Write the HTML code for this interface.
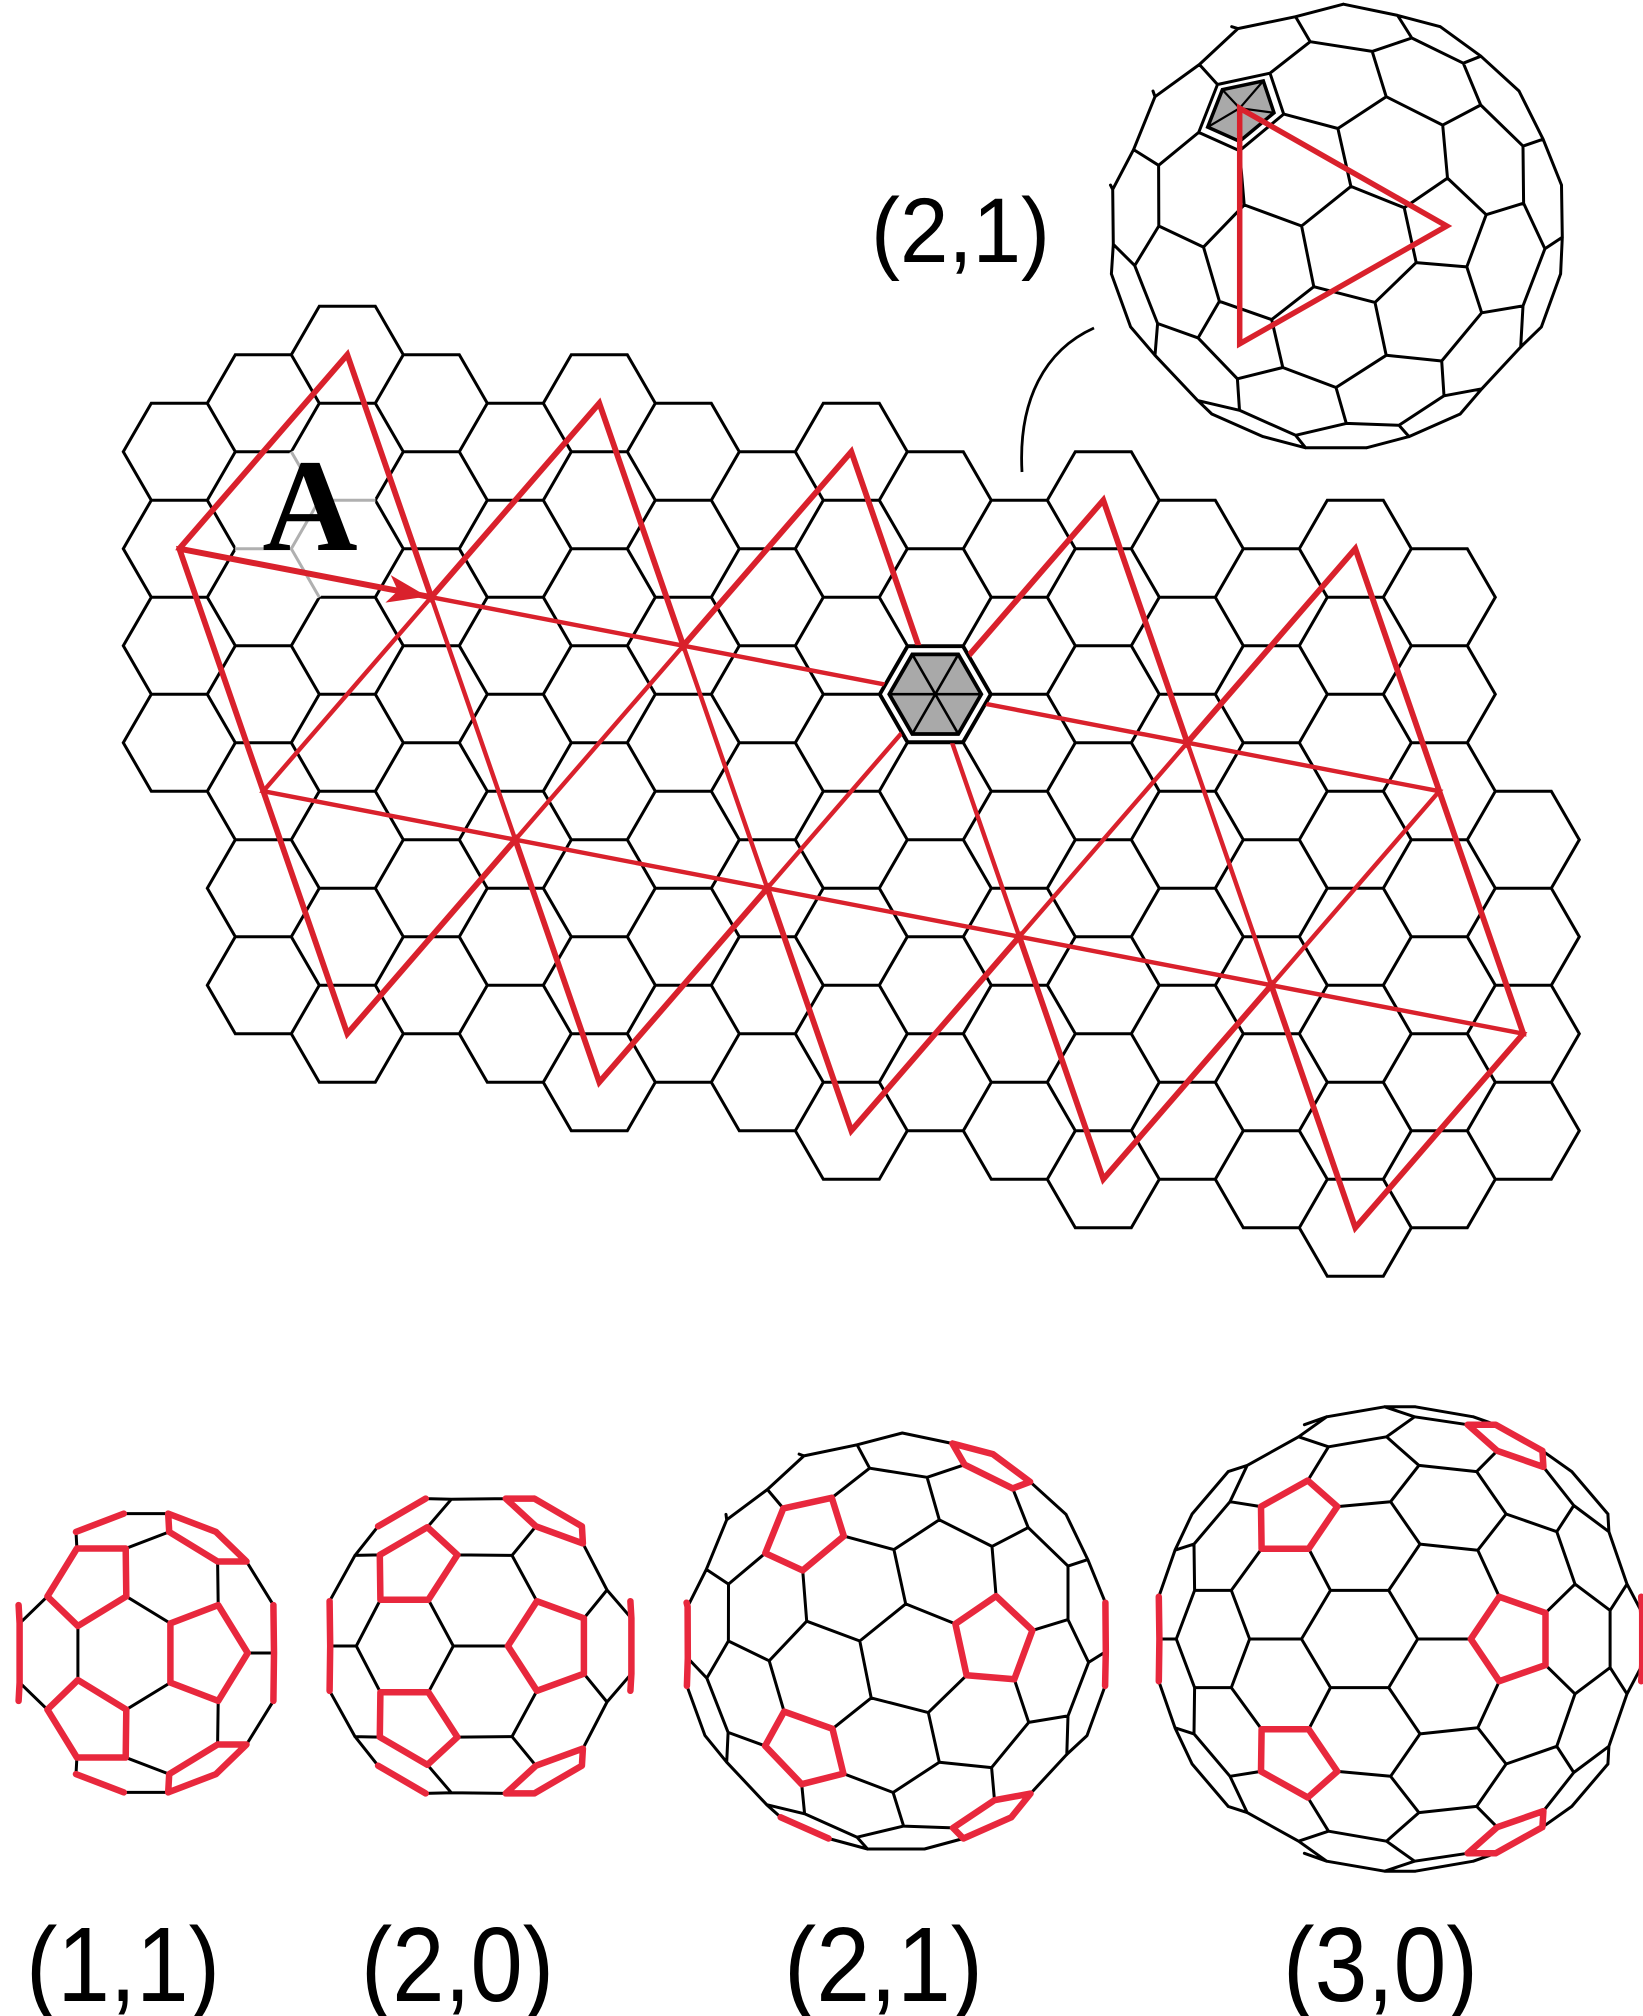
<!DOCTYPE html>
<html><head><meta charset="utf-8">
<style>
html,body{margin:0;padding:0;background:#fff;}
svg{display:block;}
text{font-family:"Liberation Sans",sans-serif;}
text.serif{font-family:"Liberation Serif",serif;font-weight:bold;}
</style></head>
<body>
<svg id="fig" width="1643" height="2016" viewBox="0 0 1643 2016" xmlns="http://www.w3.org/2000/svg">
  <rect x="0" y="0" width="1643" height="2016" fill="#fff"/>
  <g id="lattice"></g>
  <g id="gray-edges"></g>
  <g id="net"></g>
  <g id="center-hex"></g>
  <text class="serif" x="310" y="550" text-anchor="middle" font-size="132">A</text>
  <path d="M1022,472 C1018,400 1045,350 1094,328" fill="none" stroke="#000" stroke-width="2.8"/>
  <g id="balls"></g>
  <text x="871" y="262" font-size="92" textLength="179" lengthAdjust="spacingAndGlyphs">(2,1)</text>
  <text x="26" y="2001" font-size="106" textLength="194" lengthAdjust="spacingAndGlyphs">(1,1)</text>
  <text x="361" y="2001" font-size="106" textLength="193" lengthAdjust="spacingAndGlyphs">(2,0)</text>
  <text x="784" y="2001" font-size="106" textLength="199" lengthAdjust="spacingAndGlyphs">(2,1)</text>
  <text x="1283" y="2001" font-size="106" textLength="195" lengthAdjust="spacingAndGlyphs">(3,0)</text>
</svg>
<script>
// ---- data ----
const vectorA = [3, 2];        // lattice steps (q,r) of vector A
const vectorB = [2, -1];       // companion vector (A rotated 60deg)
const netOrigin = [0, 1];      // starting lattice cell
const capCount = [5];          // number of triangle columns in net
const ballIndices = [[1,1],[2,0],[2,1],[3,0]];
const insetIndex = [2, 1];

const NS = 'http://www.w3.org/2000/svg';
const S = 56, DX = 84, DY = 97, X0 = 179.3, Y0 = 451.7;
function cen(q, r){ return [X0 + DX*q, Y0 - DY/2*q + DY*r]; }
function pt(i, j){
  const q = netOrigin[0] + i*vectorA[0] + j*vectorB[0];
  const r = netOrigin[1] + i*vectorA[1] + j*vectorB[1];
  return cen(q, r);
}
const N = capCount[0];
const U = k => pt(k, 0), L = k => pt(k+1, -1), T = k => pt(k, 1), Bo = k => pt(k+2, -2);
const tris = [];
for (let k = 0; k < N; k++){
  tris.push([U(k), U(k+1), T(k)]);
  tris.push([U(k), U(k+1), L(k)]);
  tris.push([U(k+1), L(k), L(k+1)]);
  tris.push([L(k), L(k+1), Bo(k)]);
}
function inTri(p, t){
  function s(a,b,c){ return (a[0]-c[0])*(b[1]-c[1]) - (b[0]-c[0])*(a[1]-c[1]); }
  const d1 = s(p,t[0],t[1]), d2 = s(p,t[1],t[2]), d3 = s(p,t[2],t[0]);
  const neg = d1 < -1e-6 || d2 < -1e-6 || d3 < -1e-6, pos = d1 > 1e-6 || d2 > 1e-6 || d3 > 1e-6;
  return !(neg && pos);
}
function segDist(p, a, b){
  const vx = b[0]-a[0], vy = b[1]-a[1];
  let t = ((p[0]-a[0])*vx + (p[1]-a[1])*vy)/(vx*vx+vy*vy);
  t = Math.max(0, Math.min(1, t));
  return Math.hypot(p[0]-a[0]-t*vx, p[1]-a[1]-t*vy);
}
function hexPath(c, s){
  let d = '';
  for (let i = 0; i < 6; i++){
    const a = Math.PI/3*i;
    d += (i ? 'L' : 'M') + (c[0]+s*Math.cos(a)).toFixed(1) + ',' + (c[1]+s*Math.sin(a)).toFixed(1);
  }
  return d + 'Z';
}
// ---- lattice ----
const latG = document.getElementById('lattice');
let latD = '';
for (let q = -2; q < 20; q++){
  for (let r = -5; r < 22; r++){
    const c = cen(q, r);
    let ok = tris.some(t => inTri(c, t));
    if (!ok){
      let md = 1e9;
      tris.forEach(t => { for (let i = 0; i < 3; i++) md = Math.min(md, segDist(c, t[i], t[(i+1)%3])); });
      ok = md <= 72;
    }
    if (ok) latD += hexPath(c, S);
  }
}
const latPath = document.createElementNS(NS, 'path');


latPath.setAttribute('d', latD);
latPath.setAttribute('fill', 'none');
latPath.setAttribute('stroke', '#000');
latPath.setAttribute('stroke-width', '3');
latPath.setAttribute('stroke-linejoin', 'miter');
latG.appendChild(latPath);
// gray edges around A
const grayG = document.getElementById('gray-edges');
const gsegs = [[[291.3,451.7],[319.3,500.2]],[[319.3,500.2],[375.3,500.2]],[[319.3,500.2],[291.3,548.7]],[[235.3,548.7],[291.3,548.7]],[[291.3,548.7],[319.3,597.2]]];
let gd = '';
gsegs.forEach(s => { gd += 'M' + s[0][0] + ',' + s[0][1] + 'L' + s[1][0] + ',' + s[1][1]; });
const gw = document.createElementNS(NS, 'path');


gw.setAttribute('d', gd);
gw.setAttribute('stroke', '#fff');
gw.setAttribute('stroke-width', '4.5');
grayG.appendChild(gw);
const gp = document.createElementNS(NS, 'path');


gp.setAttribute('d', gd);
gp.setAttribute('stroke', '#b0b0b0');
gp.setAttribute('stroke-width', '3');
grayG.appendChild(gp);
// ---- red net ----
const netG = document.getElementById('net');
const RED = '#d9212c';
let nd = '';
tris.forEach(t => { nd += 'M' + t[0].join(',') + 'L' + t[1].join(',') + 'L' + t[2].join(',') + 'Z'; });
const inner = document.createElementNS(NS, 'path');


inner.setAttribute('d', nd);
inner.setAttribute('fill', 'none');
inner.setAttribute('stroke', RED);
inner.setAttribute('stroke-width', '4.4');
netG.appendChild(inner);
const outline = [];
for (let k = 0; k < N; k++){ outline.push(U(k)); outline.push(T(k)); }
outline.push(U(N)); outline.push(L(N));
for (let k = N-1; k >= 0; k--){ outline.push(Bo(k)); outline.push(L(k)); }
const outP = document.createElementNS(NS, 'path');


outP.setAttribute('d', 'M' + outline.map(p => p[0].toFixed(1) + ',' + p[1].toFixed(1)).join('L') + 'Z');
outP.setAttribute('fill', 'none');
outP.setAttribute('stroke', RED);
outP.setAttribute('stroke-width', '5.8');
outP.setAttribute('stroke-linejoin', 'miter');
netG.appendChild(outP);
// arrow A
const a0 = U(0), a1 = U(1);
const arr = document.createElementNS(NS, 'path');


arr.setAttribute('d', 'M' + a0.join(',') + 'L' + a1.join(','));
arr.setAttribute('stroke', RED);
arr.setAttribute('stroke-width', '6');
netG.appendChild(arr);
{
  const ux = a1[0]-a0[0], uy = a1[1]-a0[1], ln = Math.hypot(ux, uy), ex = ux/ln, ey = uy/ln;
  const tip = [a1[0]-4*ex, a1[1]-4*ey], back = [tip[0]-40*ex, tip[1]-40*ey];
  const hd = 'M' + tip.join(',') + 'L' + (back[0]-14*ey) + ',' + (back[1]+14*ex) + 'L' + (back[0]+10*ex) + ',' + (back[1]+10*ey) + 'L' + (back[0]+14*ey) + ',' + (back[1]-14*ex) + 'Z';
  const head = document.createElementNS(NS, 'path');
  
  
  head.setAttribute('d', hd);
  head.setAttribute('fill', RED);
  netG.appendChild(head);
}
// center hexagon (pentamer)
{
  const c = U(3);
  const hg = document.getElementById('center-hex');
  const wh = document.createElementNS(NS, 'path');
  
  
  wh.setAttribute('d', hexPath(c, S-1));
  wh.setAttribute('fill', '#fff');
  wh.setAttribute('stroke', '#000');
  wh.setAttribute('stroke-width', '3');
  hg.appendChild(wh);
  const gh = document.createElementNS(NS, 'path');
  
  
  gh.setAttribute('d', hexPath(c, 46));
  gh.setAttribute('fill', '#a9a9a9');
  gh.setAttribute('stroke', '#000');
  gh.setAttribute('stroke-width', '3.8');
  hg.appendChild(gh);
  let sd = '';
  for (let i = 0; i < 3; i++){
    const a = Math.PI/3*i;
    sd += 'M' + (c[0]+46*Math.cos(a)) + ',' + (c[1]+46*Math.sin(a)) + 'L' + (c[0]-46*Math.cos(a)) + ',' + (c[1]-46*Math.sin(a));
  }
  const sp = document.createElementNS(NS, 'path');
  
  
  sp.setAttribute('d', sd);
  sp.setAttribute('stroke', '#000');
  sp.setAttribute('stroke-width', '2.6');
  hg.appendChild(sp);
}
// ---- Goldberg polyhedra ----
function norm(v){ const l = Math.hypot(v[0],v[1],v[2]); return [v[0]/l, v[1]/l, v[2]/l]; }
function sub(a,b){ return [a[0]-b[0],a[1]-b[1],a[2]-b[2]]; }
function dot(a,b){ return a[0]*b[0]+a[1]*b[1]+a[2]*b[2]; }
function cross(a,b){ return [a[1]*b[2]-a[2]*b[1], a[2]*b[0]-a[0]*b[2], a[0]*b[1]-a[1]*b[0]]; }
const PHI = (1+Math.sqrt(5))/2;
const icoRaw = [];
[-1,1].forEach(s1 => [-1,1].forEach(s2 => {
  icoRaw.push([0, s1, s2*PHI]); icoRaw.push([s1, s2*PHI, 0]); icoRaw.push([s2*PHI, 0, s1]);
}));
const ico = icoRaw.map(norm);
const icoFaces = [];
for (let i = 0; i < 12; i++) for (let j = i+1; j < 12; j++) for (let l = j+1; l < 12; l++){
  const e = 2/Math.sqrt(1+PHI*PHI);
  const dij = Math.hypot(...sub(ico[i],ico[j])), dil = Math.hypot(...sub(ico[i],ico[l])), djl = Math.hypot(...sub(ico[j],ico[l]));
  if (Math.abs(dij-e) < 1e-6 && Math.abs(dil-e) < 1e-6 && Math.abs(djl-e) < 1e-6){
    const n = cross(sub(ico[j],ico[i]), sub(ico[l],ico[i]));
    if (dot(n, ico[i]) > 0) icoFaces.push([i,j,l]); else icoFaces.push([i,l,j]);
  }
}
function goldberg(h, k){
  const pts = [];
  const Uc = [h + k/2, k*Math.sqrt(3)/2];
  const c60 = 0.5, s60 = Math.sqrt(3)/2;
  const Vc = [Uc[0]*c60 - Uc[1]*s60, Uc[0]*s60 + Uc[1]*c60];
  const det = Uc[0]*Vc[1] - Uc[1]*Vc[0];
  const n = h + k;
  icoFaces.forEach(f => {
    const F = f.map(i => ico[i]);
    for (let a = -2*n; a <= 2*n; a++) for (let b = -2*n; b <= 2*n; b++){
      const p = [a + b/2, b*Math.sqrt(3)/2];
      const b1 = (p[0]*Vc[1] - p[1]*Vc[0])/det, b2 = (Uc[0]*p[1] - Uc[1]*p[0])/det, b0 = 1 - b1 - b2;
      if (b0 < -1e-9 || b1 < -1e-9 || b2 < -1e-9) continue;
      const P = norm([b0*F[0][0]+b1*F[1][0]+b2*F[2][0], b0*F[0][1]+b1*F[1][1]+b2*F[2][1], b0*F[0][2]+b1*F[1][2]+b2*F[2][2]]);
      if (!pts.some(q => Math.hypot(...sub(q,P)) < 1e-6)) pts.push(P);
    }
  });
  const faces = [];
  pts.forEach(p => {
    const pent = ico.some(v => Math.hypot(...sub(v,p)) < 1e-6);
    const nb = pts.filter(q => q !== p).sort((x,y) => Math.hypot(...sub(x,p)) - Math.hypot(...sub(y,p))).slice(0, pent ? 5 : 6);
    let t1 = cross(p, Math.abs(p[0]) < 0.9 ? [1,0,0] : [0,1,0]); t1 = norm(t1);
    const t2 = cross(p, t1);
    nb.sort((x,y) => { const dx = sub(x,p), dy = sub(y,p); return Math.atan2(dot(dx,t2),dot(dx,t1)) - Math.atan2(dot(dy,t2),dot(dy,t1)); });
    const poly = nb.map((q,i) => { const r = nb[(i+1)%nb.length]; return norm([p[0]+q[0]+r[0], p[1]+q[1]+r[1], p[2]+q[2]+r[2]]); });
    faces.push({center: p, pent: pent, poly: poly});
  });
  return faces;
}
function makeView(tilt){
  const f = icoFaces[0], F = f.map(i => ico[i]);
  const ez = norm([F[0][0]+F[1][0]+F[2][0], F[0][1]+F[1][1]+F[2][1], F[0][2]+F[1][2]+F[2][2]]);
  const d = dot(F[0], ez);
  const ex = norm(sub(F[0], [ez[0]*d, ez[1]*d, ez[2]*d]));
  const ey = cross(ez, ex);
  const ct = Math.cos(tilt), st = Math.sin(tilt);
  return P => { const x = dot(P,ex), y = dot(P,ey), z = dot(P,ez); return [x*ct + z*st, y, -x*st + z*ct]; };
}
const ballG = document.getElementById('balls');
function drawBall(h, k, cx, cy, rx, ry, tilt, redPents, name, zTh){
  const g = document.createElementNS(NS, 'g');
  
  
  ballG.appendChild(g);
  const faces = goldberg(h, k);
  const view = makeView(tilt);
  const scr = P => { const v = view(P); return [cx + rx*v[0], cy - ry*v[1], v[2]]; };
  let bd = '', rd = '';
  faces.forEach(f => {
    const sp = f.poly.map(scr);
    for (let i = 0; i < sp.length; i++){
      const a = sp[i], b = sp[(i+1)%sp.length];
      if (a[2] > zTh && b[2] > zTh){
        const seg = 'M' + a[0].toFixed(1) + ',' + a[1].toFixed(1) + 'L' + b[0].toFixed(1) + ',' + b[1].toFixed(1);
        if (f.pent && redPents) rd += seg; else bd += seg;
      }
    }
  });
  const bp = document.createElementNS(NS, 'path');
  
  
  bp.setAttribute('d', bd);
  bp.setAttribute('stroke', '#000');
  bp.setAttribute('stroke-width', '3');
  bp.setAttribute('stroke-linecap', 'round');
  g.appendChild(bp);
  if (redPents){
    const rp = document.createElementNS(NS, 'path');
    
    
    rp.setAttribute('d', rd);
    rp.setAttribute('stroke', '#e8283d');
    rp.setAttribute('stroke-width', '6.5');
    rp.setAttribute('stroke-linecap', 'round');
    g.appendChild(rp);
  }
  return {g: g, faces: faces, scr: scr};
}
const ballGeom = [[146,1653,136,142],[480,1646,158,157],[896,1641,214,210],[1400,1639,246,234]];
ballIndices.forEach((ix, i) => {
  const b = ballGeom[i];
  drawBall(ix[0], ix[1], b[0], b[1], b[2], b[3], -0.17, true, 'ball-' + ix[0] + '-' + ix[1], -0.13);
});
// inset ball
{
  const res = drawBall(insetIndex[0], insetIndex[1], 1336, 226, 230, 224, -0.15, false, 'inset-ball', -0.13);
  const f = icoFaces[0];
  const vs = f.map(i => res.scr(ico[i]));
  let gi = 0; vs.forEach((v, i) => { if (v[1] + v[0]*0.3 < vs[gi][1] + vs[gi][0]*0.3) gi = i; });
  const pf = res.faces.find(fc => fc.pent && Math.hypot(...sub(fc.center, ico[f[gi]])) < 1e-6);
  const c = vs[gi];
  const poly = pf.poly.map(res.scr).map(p => [c[0] + (p[0]-c[0])*0.78, c[1] + (p[1]-c[1])*0.78]);
  const gp2 = document.createElementNS(NS, 'path');
  
  
  gp2.setAttribute('d', 'M' + poly.map(p => p[0].toFixed(1) + ',' + p[1].toFixed(1)).join('L') + 'Z');
  gp2.setAttribute('fill', '#a9a9a9');
  gp2.setAttribute('stroke', '#000');
  gp2.setAttribute('stroke-width', '3.5');
  res.g.appendChild(gp2);
  let spd = '';
  poly.forEach(p => { spd += 'M' + c[0].toFixed(1) + ',' + c[1].toFixed(1) + 'L' + p[0].toFixed(1) + ',' + p[1].toFixed(1); });
  const spk = document.createElementNS(NS, 'path');
  
  
  spk.setAttribute('d', spd);
  spk.setAttribute('stroke', '#000');
  spk.setAttribute('stroke-width', '2.2');
  res.g.appendChild(spk);
  const tri = document.createElementNS(NS, 'path');
  
  
  tri.setAttribute('d', 'M' + vs.map(v => v[0].toFixed(1) + ',' + v[1].toFixed(1)).join('L') + 'Z');
  tri.setAttribute('fill', 'none');
  tri.setAttribute('stroke', RED);
  tri.setAttribute('stroke-width', '5.5');
  tri.setAttribute('stroke-linejoin', 'miter');
  res.g.appendChild(tri);
}
</script>
</body></html>
